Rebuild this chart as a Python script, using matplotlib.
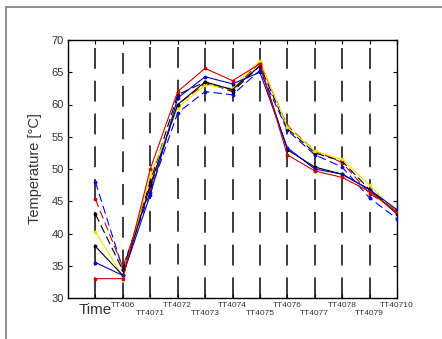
import matplotlib
matplotlib.use("Agg")
import matplotlib.pyplot as plt
from matplotlib.patches import Rectangle

plt.rcParams['font.family'] = ['Liberation Sans', 'DejaVu Sans']
plt.rcParams['lines.scale_dashes'] = False

labels = ["Time", "TT406", "TT4071", "TT4072", "TT4073", "TT4074", "TT4075",
          "TT4076", "TT4077", "TT4078", "TT4079", "TT40710"]
positions = list(range(1, 13))

red_solid    = [33.0, 33.0, 50.0, 62.0, 65.6, 63.7, 66.3, 52.2, 49.7, 48.7, 46.5, 43.3]
blue_solid   = [35.5, 33.5, 46.0, 61.0, 64.3, 63.2, 65.0, 53.3, 50.0, 49.2, 46.8, 43.7]
black_solid  = [38.0, 33.5, 47.5, 60.0, 63.5, 62.3, 66.0, 53.0, 50.3, 49.2, 46.8, 43.0]
yellow_solid = [40.3, 33.3, 49.0, 59.5, 63.0, 62.5, 66.8, 56.5, 52.8, 51.5, 47.5, 43.2]
blue_dashed  = [48.0, 34.5, 46.5, 58.7, 62.0, 61.5, 65.3, 56.0, 52.2, 50.3, 45.5, 42.3]
red_dashed   = [45.3, 34.8, 47.0, 60.0, 63.2, 62.3, 66.5, 56.7, 52.8, 51.0, 46.2, 43.5]
black_dashed = [43.0, 34.3, 48.0, 61.5, 63.5, 62.0, 66.0, 56.3, 52.5, 51.2, 46.8, 43.5]

fig = plt.figure(figsize=(4.42, 3.39), dpi=100)
fig.patches.append(Rectangle((6/442, -0.1), 1.2, 1 - 7/339 + 0.1, transform=fig.transFigure,
                             fill=False, edgecolor='#7a7a7a', linewidth=1.2))
ax = fig.add_axes([68/442, 1 - 298/339, (397 - 68)/442, (298 - 40)/339])

# vertical dashed separators
tops = [68.75, 68.0, 68.9, 68.9, 68.75, 68.75, 68.75, 68.75, 68.75, 68.75, 68.75]
for p, t in zip(positions[:-1], tops):
    ax.plot([p, p], [t, 30], color='#3a3a3a', lw=1.4, dashes=(15, 8.6), zorder=1)

series = [
    (blue_dashed, 'blue', '--'), (red_dashed, '#d00000', '--'), (black_dashed, 'black', '--'),
    (yellow_solid, '#f0e000', '-'), (black_solid, 'black', '-'),
    (blue_solid, '#0000c8', '-'), (red_solid, '#d00000', '-'),
]
for vals, c, ls in series:
    if ls == '--':
        ax.plot(positions, vals, color=c, lw=0.8, dashes=(6, 3), marker='.', ms=3.5, zorder=3)
    else:
        ax.plot(positions, vals, color=c, lw=0.8, ls='-', marker='.', ms=3.5, zorder=3)

ax.set_xlim(0, 12)
ax.set_ylim(30, 70)
ax.set_yticks(range(30, 71, 5))
ax.set_xticks(positions)
ax.set_xticklabels([])
ax.tick_params(direction='in', top=True, right=True, length=3, width=0.8,
               labelsize=8, labelcolor='#333333', pad=3)
for s in ax.spines.values():
    s.set_linewidth(1.0)

for i, (p, lab) in enumerate(zip(positions, labels)):
    if i == 0:
        ax.text(p, -0.045, lab, transform=ax.get_xaxis_transform(), ha='center', va='center',
                fontsize=11, color='#333333')
    elif i % 2 == 1:
        ax.text(p, -0.03, lab, transform=ax.get_xaxis_transform(), ha='center', va='center',
                fontsize=6, color='#333333')
    else:
        ax.text(p, -0.06, lab, transform=ax.get_xaxis_transform(), ha='center', va='center',
                fontsize=6, color='#333333')

ax.set_ylabel("Temperature [°C]", fontsize=10.5, color='#333333', labelpad=7)

fig.savefig("out.png", dpi=100)
